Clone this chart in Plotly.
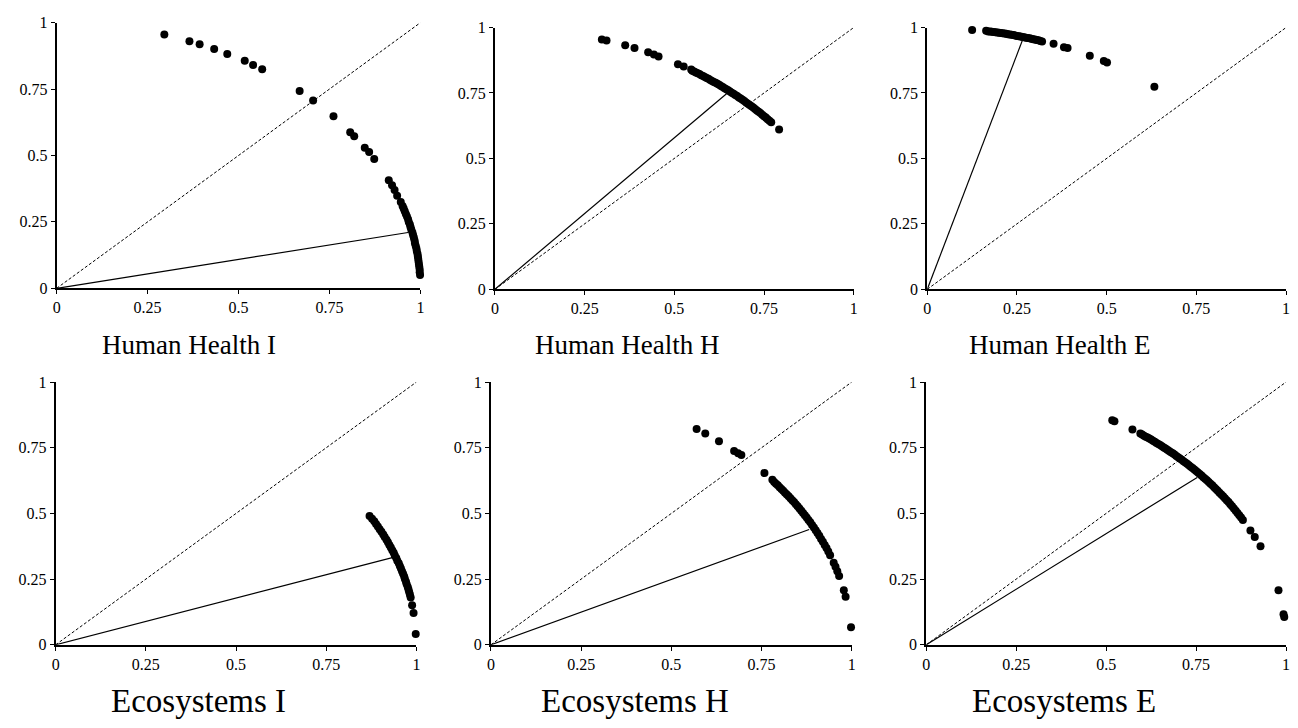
import plotly.graph_objects as go

W, H = 1298, 728

# ---------------- data ----------------
tick_vals = [0, 0.25, 0.5, 0.75, 1]
tick_text = ["0", "0.25", "0.5", "0.75", "1"]

titles = ["Human Health I", "Human Health H", "Human Health E",
          "Ecosystems I", "Ecosystems H", "Ecosystems E"]

hh_i_x = [0.296, 0.365, 0.393, 0.433, 0.469, 0.517, 0.540, 0.565, 0.668, 0.705,
          0.761, 0.807, 0.818, 0.847, 0.859, 0.873, 0.913, 0.922, 0.929, 0.936,
          0.946, 0.951, 0.954, 0.957, 0.960, 0.963, 0.966, 0.968, 0.971, 0.973,
          0.975, 0.978, 0.980, 0.982, 0.984, 0.985, 0.987, 0.989, 0.990, 0.992,
          0.993, 0.994, 0.995, 0.996, 0.997, 0.998, 0.998, 0.999]
hh_i_y = [0.955, 0.930, 0.919, 0.901, 0.882, 0.857, 0.841, 0.825, 0.743, 0.707,
          0.648, 0.587, 0.572, 0.529, 0.513, 0.487, 0.407, 0.388, 0.370, 0.348,
          0.325, 0.310, 0.300, 0.290, 0.280, 0.270, 0.260, 0.250, 0.240, 0.230,
          0.220, 0.210, 0.200, 0.190, 0.180, 0.170, 0.160, 0.150, 0.140, 0.130,
          0.120, 0.110, 0.100, 0.090, 0.080, 0.070, 0.060, 0.050]
hh_i_line = [0.966, 0.210]

hh_h_x = [0.298, 0.311, 0.363, 0.389, 0.427, 0.443, 0.456, 0.510, 0.526, 0.547,
          0.550, 0.555, 0.560, 0.565, 0.570, 0.575, 0.580, 0.585, 0.590, 0.595,
          0.600, 0.605, 0.610, 0.615, 0.620, 0.625, 0.630, 0.635, 0.640, 0.645,
          0.650, 0.655, 0.660, 0.665, 0.670, 0.675, 0.680, 0.685, 0.690, 0.695,
          0.700, 0.705, 0.710, 0.715, 0.720, 0.725, 0.730, 0.735, 0.740, 0.745,
          0.750, 0.755, 0.760, 0.765, 0.770, 0.792]
hh_h_y = [0.954, 0.950, 0.932, 0.922, 0.906, 0.897, 0.889, 0.860, 0.851, 0.840,
          0.835, 0.832, 0.828, 0.825, 0.822, 0.818, 0.815, 0.811, 0.807, 0.804,
          0.800, 0.796, 0.792, 0.789, 0.785, 0.781, 0.777, 0.773, 0.768, 0.764,
          0.760, 0.756, 0.751, 0.747, 0.742, 0.738, 0.733, 0.729, 0.724, 0.719,
          0.714, 0.709, 0.704, 0.699, 0.694, 0.689, 0.683, 0.678, 0.673, 0.667,
          0.661, 0.656, 0.650, 0.644, 0.638, 0.610]
hh_h_line = [0.647, 0.749]

hh_e_x = [0.125, 0.164, 0.170, 0.175, 0.180, 0.185, 0.190, 0.195, 0.200, 0.205,
          0.210, 0.215, 0.220, 0.225, 0.230, 0.235, 0.240, 0.245, 0.250, 0.255,
          0.260, 0.265, 0.270, 0.275, 0.280, 0.285, 0.290, 0.295, 0.300, 0.305,
          0.310, 0.315, 0.320, 0.352, 0.381, 0.391, 0.453, 0.492, 0.501, 0.633]
hh_e_y = [0.991, 0.988, 0.985, 0.985, 0.984, 0.983, 0.982, 0.981, 0.980, 0.979,
          0.978, 0.977, 0.976, 0.974, 0.973, 0.972, 0.971, 0.970, 0.968, 0.967,
          0.966, 0.964, 0.963, 0.961, 0.960, 0.959, 0.957, 0.955, 0.954, 0.952,
          0.951, 0.949, 0.947, 0.938, 0.925, 0.922, 0.892, 0.872, 0.866, 0.774]
hh_e_line = [0.266, 0.954]

eco_i_x = [0.870, 0.877, 0.883, 0.888, 0.893, 0.898, 0.903, 0.908, 0.912, 0.917,
           0.921, 0.925, 0.929, 0.933, 0.937, 0.940, 0.944, 0.947, 0.951, 0.954,
           0.957, 0.960, 0.963, 0.966, 0.968, 0.971, 0.973, 0.976, 0.978, 0.980,
           0.982, 0.984, 0.988, 0.992, 0.998]
eco_i_y = [0.490, 0.480, 0.470, 0.460, 0.450, 0.440, 0.430, 0.420, 0.410, 0.400,
           0.390, 0.380, 0.370, 0.360, 0.350, 0.340, 0.330, 0.320, 0.310, 0.300,
           0.290, 0.280, 0.270, 0.260, 0.250, 0.240, 0.230, 0.220, 0.210, 0.200,
           0.190, 0.180, 0.150, 0.121, 0.041]
eco_i_line = [0.933, 0.332]

eco_h_x = [0.570, 0.594, 0.632, 0.674, 0.685, 0.694, 0.758, 0.780, 0.785, 0.790,
           0.795, 0.800, 0.805, 0.810, 0.815, 0.820, 0.825, 0.830, 0.835, 0.840,
           0.845, 0.850, 0.855, 0.860, 0.865, 0.870, 0.875, 0.880, 0.885, 0.890,
           0.895, 0.900, 0.905, 0.910, 0.915, 0.920, 0.925, 0.930, 0.935, 0.940,
           0.950, 0.955, 0.960, 0.965, 0.978, 0.983, 0.998]
eco_h_y = [0.821, 0.804, 0.775, 0.738, 0.729, 0.722, 0.654, 0.628, 0.620, 0.613,
           0.607, 0.600, 0.593, 0.586, 0.579, 0.572, 0.565, 0.558, 0.550, 0.543,
           0.535, 0.527, 0.519, 0.510, 0.502, 0.493, 0.484, 0.475, 0.466, 0.456,
           0.446, 0.436, 0.425, 0.415, 0.403, 0.392, 0.380, 0.368, 0.355, 0.341,
           0.312, 0.297, 0.280, 0.262, 0.208, 0.183, 0.067]
eco_h_line = [0.882, 0.439]

eco_e_x = [0.517, 0.523, 0.573, 0.595, 0.600, 0.605, 0.610, 0.615, 0.620, 0.625,
           0.630, 0.635, 0.640, 0.645, 0.650, 0.655, 0.660, 0.665, 0.670, 0.675,
           0.680, 0.685, 0.690, 0.695, 0.700, 0.705, 0.710, 0.715, 0.720, 0.725,
           0.730, 0.735, 0.740, 0.745, 0.750, 0.755, 0.760, 0.765, 0.770, 0.775,
           0.780, 0.785, 0.790, 0.795, 0.800, 0.805, 0.810, 0.815, 0.820, 0.825,
           0.830, 0.835, 0.840, 0.845, 0.850, 0.855, 0.860, 0.865, 0.870, 0.875,
           0.880, 0.901, 0.913, 0.929, 0.979, 0.993, 0.995]
eco_e_y = [0.855, 0.851, 0.819, 0.804, 0.800, 0.796, 0.792, 0.789, 0.785, 0.781,
           0.777, 0.773, 0.768, 0.764, 0.760, 0.756, 0.751, 0.747, 0.742, 0.738,
           0.733, 0.729, 0.724, 0.719, 0.714, 0.709, 0.704, 0.699, 0.694, 0.689,
           0.683, 0.678, 0.673, 0.667, 0.661, 0.656, 0.650, 0.644, 0.638, 0.632,
           0.626, 0.620, 0.613, 0.607, 0.600, 0.593, 0.586, 0.579, 0.572, 0.565,
           0.558, 0.550, 0.543, 0.535, 0.527, 0.519, 0.510, 0.502, 0.493, 0.484,
           0.475, 0.435, 0.410, 0.375, 0.208, 0.116, 0.106]
eco_e_line = [0.753, 0.637]

panels_x = [hh_i_x, hh_h_x, hh_e_x, eco_i_x, eco_h_x, eco_e_x]
panels_y = [hh_i_y, hh_h_y, hh_e_y, eco_i_y, eco_h_y, eco_e_y]
panels_line = [hh_i_line, hh_h_line, hh_e_line, eco_i_line, eco_h_line, eco_e_line]

# ---------------- layout (pixel boxes) ----------------
# (left, right, top, bottom) in pixels
boxes = [(53, 419, 15, 287), (494, 855, 20, 288), (929, 1290, 20, 288),
         (52, 415, 383, 652), (490, 853, 383, 652), (928, 1290, 383, 652)]
title_pos = [(186, 345), (627, 345), (1062, 345),
             (196, 710), (635, 710), (1067, 710)]
title_size = [27, 27, 27, 33, 33, 33]

FONT = "Liberation Serif, Times New Roman, serif"

fig = go.Figure()
layout = dict(
    width=W, height=H,
    margin=dict(l=0, r=0, t=0, b=0),
    paper_bgcolor="white", plot_bgcolor="white",
    showlegend=False,
    font=dict(family=FONT, color="black", size=16),
    annotations=[],
)

for i in range(6):
    n = i + 1
    xa = "x" if n == 1 else f"x{n}"
    ya = "y" if n == 1 else f"y{n}"
    l, r, t, b = boxes[i]
    axis_common = dict(
        range=[0, 1], tickvals=tick_vals, ticktext=tick_text,
        showgrid=False, zeroline=False, showline=True, linecolor="black",
        linewidth=2, ticks="outside", ticklen=4, tickwidth=1, tickcolor="black",
        tickfont=dict(family=FONT, size=16, color="black"), fixedrange=True,
        ticklabeloverflow="allow",
    )
    layout["xaxis" if n == 1 else f"xaxis{n}"] = dict(
        domain=[l / W, r / W], anchor=ya, **axis_common)
    layout["yaxis" if n == 1 else f"yaxis{n}"] = dict(
        domain=[1 - b / H, 1 - t / H], anchor=xa, **axis_common)

    # dashed 1:1 line
    fig.add_trace(go.Scatter(x=[0, 1], y=[0, 1], mode="lines", xaxis=xa, yaxis=ya,
                             line=dict(color="black", width=1, dash="3px,2px"),
                             hoverinfo="skip"))
    # solid line to mean direction
    fig.add_trace(go.Scatter(x=[0, panels_line[i][0]], y=[0, panels_line[i][1]],
                             mode="lines", xaxis=xa, yaxis=ya,
                             line=dict(color="black", width=1.2)))
    # points
    fig.add_trace(go.Scatter(x=panels_x[i], y=panels_y[i], mode="markers",
                             xaxis=xa, yaxis=ya, cliponaxis=False,
                             marker=dict(color="black", size=8)))

    tx, ty = title_pos[i]
    layout["annotations"].append(dict(
        text=titles[i], x=tx / W, y=1 - ty / H, xref="paper", yref="paper",
        xanchor="center", yanchor="middle", showarrow=False,
        font=dict(family=FONT, size=title_size[i], color="black")))

fig.update_layout(**layout)
fig.write_html(
    "out.html",
    config={"displayModeBar": False},
    post_script="document.body.style.margin='0';document.body.style.padding='0';"
                "document.documentElement.style.overflow='hidden';",
)
